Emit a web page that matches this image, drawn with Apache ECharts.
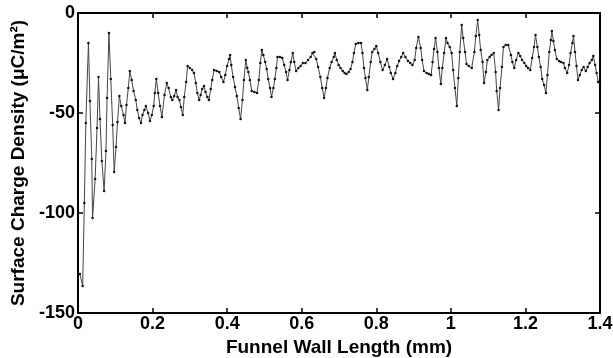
<!DOCTYPE html>
<html>
<head>
<meta charset="utf-8">
<script src="https://cdn.jsdelivr.net/npm/echarts@6/dist/echarts.min.js"></script>
<style>
  html, body { margin: 0; padding: 0; background: #fff; }
  #chart { width: 613px; height: 358px; }
</style>
</head>
<body>
<div id="chart"></div>
<script>
// Funnel wall position (mm) and surface charge density (uC/m^2)
const wallLength = [
  0.005, 0.0125, 0.017, 0.021, 0.028, 0.032, 0.037, 0.039, 0.046, 0.051,
  0.055, 0.059, 0.064, 0.07, 0.075, 0.078, 0.083, 0.088, 0.093, 0.097,
  0.102, 0.106, 0.111, 0.116, 0.122, 0.126, 0.13, 0.135, 0.139, 0.144,
  0.149, 0.155, 0.159, 0.164, 0.169, 0.173, 0.178, 0.182, 0.188, 0.193,
  0.198, 0.203, 0.206, 0.21, 0.215, 0.22, 0.225, 0.232, 0.238, 0.243,
  0.249, 0.253, 0.258, 0.263, 0.267, 0.272, 0.276, 0.281, 0.285, 0.29,
  0.294, 0.3, 0.306, 0.311, 0.316, 0.32, 0.325, 0.329, 0.333, 0.338,
  0.342, 0.347, 0.351, 0.356, 0.36, 0.365, 0.372, 0.379, 0.384, 0.39,
  0.395, 0.4, 0.405, 0.408, 0.411, 0.416, 0.421, 0.426, 0.431, 0.436,
  0.441, 0.445, 0.45, 0.454, 0.457, 0.461, 0.466, 0.473, 0.48, 0.485,
  0.489, 0.493, 0.497, 0.502, 0.506, 0.51, 0.515, 0.519, 0.524, 0.528,
  0.532, 0.535, 0.542, 0.548, 0.553, 0.558, 0.562, 0.567, 0.571, 0.576,
  0.58, 0.585, 0.591, 0.597, 0.603, 0.61, 0.617, 0.624, 0.629, 0.634,
  0.639, 0.644, 0.65, 0.655, 0.66, 0.665, 0.669, 0.675, 0.68, 0.686,
  0.689, 0.694, 0.699, 0.704, 0.71, 0.715, 0.72, 0.726, 0.731, 0.736,
  0.74, 0.745, 0.752, 0.759, 0.763, 0.767, 0.771, 0.776, 0.78, 0.785,
  0.789, 0.795, 0.8, 0.805, 0.811, 0.817, 0.823, 0.829, 0.835, 0.839,
  0.845, 0.851, 0.856, 0.861, 0.867, 0.872, 0.878, 0.885, 0.891, 0.897,
  0.903, 0.907, 0.913, 0.919, 0.923, 0.928, 0.935, 0.941, 0.947, 0.951,
  0.955, 0.959, 0.964, 0.968, 0.973, 0.977, 0.982, 0.987, 0.991, 0.997,
  1.002, 1.006, 1.011, 1.016, 1.02, 1.024, 1.029, 1.033, 1.038, 1.042,
  1.048, 1.056, 1.063, 1.067, 1.072, 1.076, 1.08, 1.085, 1.089, 1.094,
  1.098, 1.104, 1.109, 1.115, 1.12, 1.123, 1.128, 1.132, 1.137, 1.141,
  1.147, 1.154, 1.161, 1.165, 1.17, 1.175, 1.181, 1.186, 1.191, 1.197,
  1.202, 1.207, 1.213, 1.218, 1.223, 1.227, 1.232, 1.236, 1.241, 1.245,
  1.25, 1.255, 1.259, 1.264, 1.268, 1.271, 1.275, 1.279, 1.284, 1.29,
  1.295, 1.302, 1.306, 1.312, 1.317, 1.321, 1.326, 1.329, 1.333, 1.337,
  1.341, 1.346, 1.351, 1.356, 1.362, 1.367, 1.372, 1.378, 1.382, 1.387,
  1.391, 1.395, 1.4
];
const chargeDensity = [
  -130.5, -136.5, -95, -55, -15, -44, -73, -102.5, -83, -57.5,
  -32, -53, -74, -89, -69, -42.5, -10, -33, -56, -79.5,
  -67, -54.5, -41.5, -46.5, -51, -55, -46, -37.5, -29, -33.5,
  -39, -43.5, -48.5, -52.5, -55, -51, -48.5, -46.5, -50, -54,
  -51, -46.5, -40, -33, -40, -46.5, -52, -41, -35, -37.5,
  -42, -43.5, -41.5, -38.5, -42, -43.5, -47, -51, -42, -34.5,
  -26.5, -27.5, -28.5, -30, -35, -40, -43.5, -41, -38, -36.5,
  -39.5, -42, -43.5, -38, -33.5, -28.5, -29, -29.5, -32, -34.5,
  -31, -26.5, -23, -21, -26, -32, -37, -41.5, -47.5, -53,
  -43.5, -33.5, -23.5, -27.5, -29.5, -33.5, -39, -39.5, -40, -33.5,
  -25, -18.5, -21, -24.5, -28, -33, -37.5, -42, -37.5, -33,
  -27.5, -22, -22, -22.5, -26, -29.5, -33.5, -28.5, -24.5, -20,
  -24.5, -29, -27.5, -26.5, -25, -25, -23.5, -22, -20, -19.5,
  -23, -27, -32, -37.5, -42.5, -37.5, -32.5, -27.5, -24.5, -22,
  -20, -23.5, -26, -27.5, -29, -30, -30.5, -29.5, -28, -24.5,
  -20, -15.5, -15, -15, -20, -27.5, -32.5, -38.5, -32, -24.5,
  -19.5, -18, -16.5, -20, -24.5, -28.5, -26, -23, -27, -30,
  -33, -30, -26.5, -24, -22, -20, -22, -24, -25, -26,
  -23.5, -17.5, -12, -17.5, -23.5, -29, -30, -30.5, -31, -24.5,
  -18, -12.5, -19.5, -27.5, -35.5, -27.5, -20, -12.5, -15, -17,
  -20, -28.5, -37.5, -46.5, -32.5, -19.5, -6, -12.5, -19.5, -25.5,
  -26.5, -27.5, -19.5, -11.5, -3.5, -11, -18.5, -24.5, -35, -29.5,
  -23.5, -22, -21, -20, -29.5, -39, -48.5, -37.5, -27, -17,
  -16, -16, -21, -24.5, -27.5, -23.5, -20, -21.5, -23.5, -25,
  -26.5, -27.5, -28.5, -22.5, -17, -11, -17, -22, -27, -33,
  -36, -40, -31, -19.5, -13.5, -9, -14, -18.5, -23, -24,
  -24.5, -25, -27.5, -30, -26, -20, -15, -11.5, -19.5, -26.5,
  -33.5, -31, -28.5, -27, -29, -27, -25, -23.5, -21.5, -26,
  -30, -34.5, -35
];
const xTicks = [0, 0.2, 0.4, 0.6, 0.8, 1, 1.2, 1.4];
const yTicks = [-150, -100, -50, 0];

const chart = echarts.init(document.getElementById('chart'), null, { renderer: 'canvas' });

const font = 'Liberation Sans, Arial, sans-serif';
const axisLine = { show: true, onZero: false, lineStyle: { color: '#000', width: 2 } };
const tickIn = { show: true, inside: true, length: 5, lineStyle: { color: '#000', width: 1.5 } };
const labelStyle = { color: '#000', fontFamily: font, fontWeight: 'bold', fontSize: 18 };
const nameStyle = { color: '#000', fontFamily: font, fontWeight: 'bold', fontSize: 19 };

chart.setOption({
  animation: false,
  backgroundColor: '#fff',
  grid: { left: 78, right: 13, top: 13, bottom: 45, outerBoundsMode: 'none' },
  xAxis: [
    {
      type: 'value',
      min: xTicks[0],
      max: xTicks[xTicks.length - 1],
      interval: 0.2,
      position: 'bottom',
      axisLine: axisLine,
      axisTick: tickIn,
      splitLine: { show: false },
      axisLabel: Object.assign({ margin: 2 }, labelStyle, {
        formatter: v => String(Math.round(v * 10) / 10)
      }),
      name: 'Funnel Wall Length (mm)',
      nameLocation: 'middle',
      nameGap: 21,
      nameTextStyle: nameStyle
    },
    {
      type: 'value',
      min: xTicks[0],
      max: xTicks[xTicks.length - 1],
      interval: 0.2,
      position: 'top',
      axisLine: axisLine,
      axisTick: tickIn,
      axisLabel: { show: false },
      splitLine: { show: false }
    }
  ],
  yAxis: [
    {
      type: 'value',
      min: yTicks[0],
      max: yTicks[yTicks.length - 1],
      interval: 50,
      position: 'left',
      axisLine: axisLine,
      axisTick: tickIn,
      splitLine: { show: false },
      axisLabel: Object.assign({ margin: 3 }, labelStyle),
      name: 'Surface Charge Density (\u03bcC/m\u00b2)',
      nameLocation: 'middle',
      nameGap: 46,
      nameTextStyle: nameStyle
    },
    {
      type: 'value',
      min: yTicks[0],
      max: yTicks[yTicks.length - 1],
      interval: 50,
      position: 'right',
      axisLine: axisLine,
      axisTick: tickIn,
      axisLabel: { show: false },
      splitLine: { show: false }
    }
  ],
  series: [{
    type: 'line',
    data: wallLength.map((x, i) => [x, chargeDensity[i]]),
    showSymbol: true,
    symbol: 'circle',
    symbolSize: 2.5,
    itemStyle: { color: '#111' },
    lineStyle: { color: '#444', width: 1 }
  }]
});
</script>
</body>
</html>
